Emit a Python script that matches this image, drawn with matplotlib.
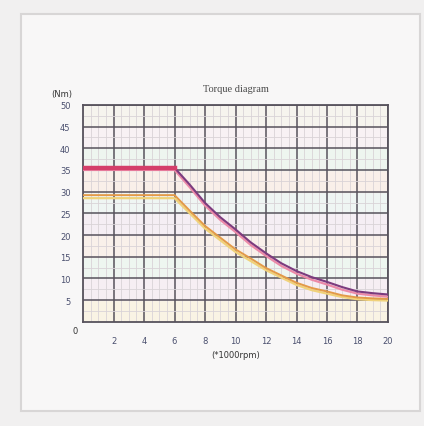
import matplotlib.pyplot as plt
from matplotlib.patches import Rectangle

# speed (x1000 rpm) and torque (Nm)
speed = [0, 6, 7, 8, 9, 10, 11, 12, 13, 14, 15, 16, 17, 18, 19, 20]
peak_torque = [35.5, 35.5, 31.6, 27.4, 24.1, 21.3, 18.3, 15.8, 13.5, 11.7,
               10.3, 9.2, 8.0, 7.0, 6.6, 6.3]
peak_torque_2 = [35.0, 35.0, 31.0, 26.8, 23.5, 20.7, 17.7, 15.2, 12.9, 11.1,
                 9.7, 8.6, 7.4, 6.5, 6.1, 5.8]
rated_torque = [29.2, 29.2, 25.6, 22.1, 19.4, 16.7, 14.6, 12.4, 10.7, 9.0,
                7.8, 7.0, 6.1, 5.6, 5.4, 5.3]
rated_torque_2 = [28.5, 28.5, 25.0, 21.5, 18.8, 16.1, 14.0, 11.9, 10.2, 8.5,
                  7.3, 6.5, 5.7, 5.2, 5.0, 4.9]

x_ticks = [2, 4, 6, 8, 10, 12, 14, 16, 18, 20]
y_ticks = [5, 10, 15, 20, 25, 30, 35, 40, 45, 50]

fig = plt.figure(figsize=(4.24, 4.27), dpi=100)
fig.patch.set_facecolor('#f1f0f0')
# inner panel of the page
fig.patches.append(Rectangle((0.05, 0.035), 0.94, 0.93, transform=fig.transFigure,
                             facecolor='#f8f7f7', edgecolor='#d8d6d6', lw=1.5,
                             zorder=-5))

ax = fig.add_axes([0.196, 0.244, 0.719, 0.508])
ax.set_facecolor('#fbf6f5')

# light bands in the background
band_colors = ['#f9f3e4', '#f6eef3', '#eef6f0', '#f9f0ea', '#f5eef4',
               '#eff5f3', '#f9efe9', '#eef5ef', '#f8f1f4', '#f6f4ee']
for i, c in enumerate(band_colors):
    ax.axhspan(i * 5, i * 5 + 5, color=c, zorder=0)

ax.set_xlim(0, 20)
ax.set_ylim(0, 50)
ax.set_xticks(x_ticks)
ax.set_yticks(y_ticks)
ax.set_xticks([v / 2 for v in range(41)], minor=True)
ax.set_yticks([v * 2.5 for v in range(21)], minor=True)
ax.set_axisbelow(True)
ax.grid(True, which='major', color='#57525c', lw=1.1)
ax.grid(True, which='minor', color='#d9d3d7', lw=0.6)
for s in ax.spines.values():
    s.set_color('#57525c')
    s.set_linewidth(1.3)
ax.tick_params(which='both', length=0)
ax.tick_params(axis='x', pad=10, labelsize=6, labelcolor='#4a4f6e')
ax.tick_params(axis='y', pad=9, labelsize=6, labelcolor='#4a4f6e')

ax.plot(speed, rated_torque_2, color='#f0d27a', lw=1.6, zorder=3)
ax.plot(speed, rated_torque, color='#e39a48', lw=1.4, zorder=3)
ax.plot(speed, peak_torque_2, color='#ec8aa8', lw=1.6, zorder=3)
ax.plot(speed, peak_torque, color='#7c3b7e', lw=1.5, zorder=3)
ax.plot(speed[:2], peak_torque[:2], color='#d43f6a', lw=3.2, zorder=4)

ax.set_title('Torque diagram', fontsize=7.5, color='#4a4a4a', pad=10,
             family='Liberation Serif')
ax.set_xlabel('(*1000rpm)', fontsize=6, color='#333333', labelpad=4)
ax.text(-0.07, 1.03, '(Nm)', transform=ax.transAxes, fontsize=6,
        color='#333333', ha='center', va='bottom')
ax.text(-0.025, -0.04, '0', transform=ax.transAxes, fontsize=6,
        color='#333333', ha='center', va='center')

fig.savefig('out.png', dpi=100, facecolor=fig.get_facecolor())
